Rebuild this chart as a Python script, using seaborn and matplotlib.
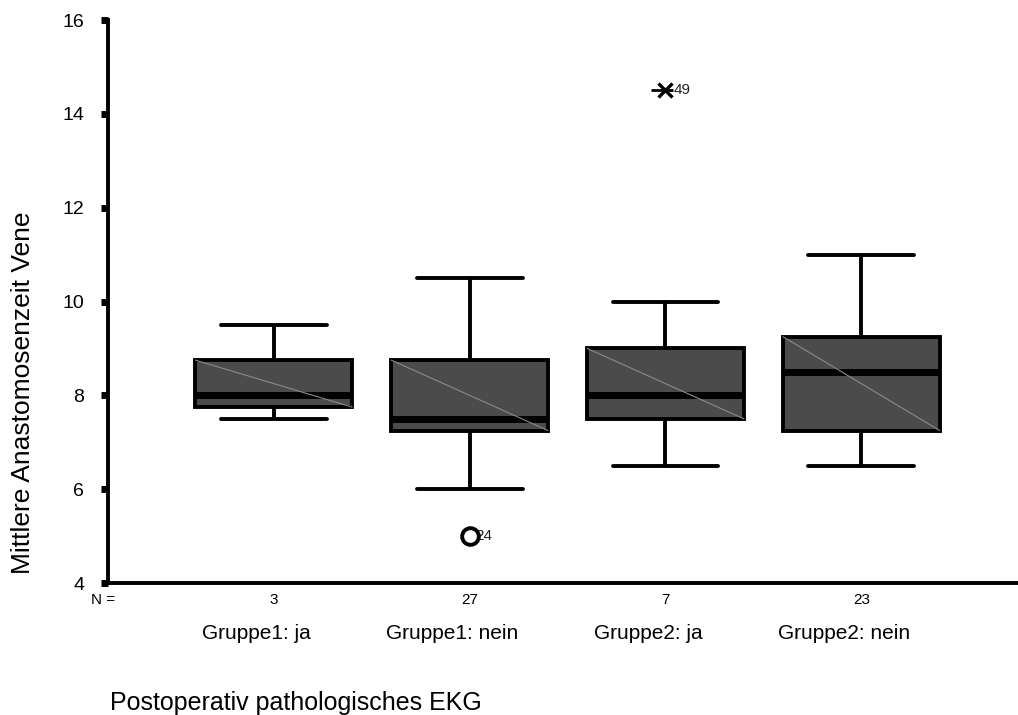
import pandas as pd
import seaborn as sns
import matplotlib.pyplot as plt

# Five-number summaries (min whisker, Q1, median, Q3, max whisker)
groups = ['Gruppe1: ja', 'Gruppe1: nein', 'Gruppe2: ja', 'Gruppe2: nein']
counts = [3, 27, 7, 23]
whisker_low = [7.5, 6.0, 6.5, 6.5]
q1 = [7.75, 7.25, 7.5, 7.25]
median = [8.0, 7.5, 8.0, 8.5]
q3 = [8.75, 8.75, 9.0, 9.25]
whisker_high = [9.5, 10.5, 10.0, 11.0]

# Flagged cases
outlier_group = ['Gruppe1: nein']
outlier_value = [5.0]
outlier_case = ['24']
extreme_group = ['Gruppe2: ja']
extreme_value = [14.5]
extreme_case = ['49']

rows = []
for i, g in enumerate(groups):
    for v in (whisker_low[i], q1[i], median[i], q3[i], whisker_high[i]):
        rows.append({'Gruppe': g, 'Zeit': v})
df = pd.DataFrame(rows)

sns.set_style('white')
plt.rcParams['font.family'] = ['Liberation Sans', 'DejaVu Sans']
plt.rcParams['text.color'] = 'black'
plt.rcParams['axes.labelcolor'] = 'black'
plt.rcParams['xtick.color'] = 'black'
plt.rcParams['ytick.color'] = 'black'

fig = plt.figure(figsize=(10.18, 7.15), dpi=100)
ax = fig.add_axes([0.106, 0.1846, 0.894, 0.7874])

sns.boxplot(
    data=df, x='Gruppe', y='Zeit', order=groups, whis=(0, 100),
    width=0.8, color='#4b4b4b', saturation=1, fliersize=0, ax=ax,
    boxprops=dict(edgecolor='black', linewidth=2.8),
    whiskerprops=dict(color='black', linewidth=2.8),
    capprops=dict(color='black', linewidth=2.8),
    medianprops=dict(color='black', linewidth=5),
)

# widen the whisker caps (SPSS draws them about 2/3 of the box width)
for line in ax.lines:
    xd = list(line.get_xdata())
    yd = list(line.get_ydata())
    if len(xd) == 2 and yd[0] == yd[1] and abs((xd[1] - xd[0]) - 0.4) < 1e-6:
        c = (xd[0] + xd[1]) / 2
        line.set_xdata([c - 0.27, c + 0.27])

# thin diagonal stroke across each box (SPSS shading artefact)
for patch in ax.patches:
    ext = patch.get_path().get_extents(patch.get_transform())
    x0, y0 = ax.transData.inverted().transform((ext.x0, ext.y1))
    x1, y1 = ax.transData.inverted().transform((ext.x1, ext.y0))
    ax.plot([x0, x1], [y0, y1], color='#8a8a8a', lw=0.8, zorder=patch.get_zorder() + 0.1)

# outliers and extremes
pos = {g: i for i, g in enumerate(groups)}
for g, v, c in zip(outlier_group, outlier_value, outlier_case):
    ax.plot(pos[g], v, marker='o', ms=12, mfc='white', mec='black', mew=2.8, zorder=5)
    ax.text(pos[g] + 0.03, v, c, fontsize=11, va='center', ha='left', color='#222222')
for g, v, c in zip(extreme_group, extreme_value, extreme_case):
    ax.plot(pos[g], v, marker='x', ms=10, mec='black', mew=2.4, zorder=5)
    ax.plot(pos[g] - 0.02, v, marker='_', ms=16, mec='black', mew=2.0, zorder=5)
    ax.text(pos[g] + 0.04, v, c, fontsize=11, va='center', ha='left', color='#222222')

ax.set_ylim(4, 16)
ax.set_xlim(-0.847, 3.8)
ax.set_yticks(range(4, 17, 2))
ax.tick_params(axis='y', direction='out', length=5, width=5, labelsize=14, pad=12, left=True)
ax.set_xticks([])

for side in ('top', 'right'):
    ax.spines[side].set_visible(False)
for side in ('left', 'bottom'):
    ax.spines[side].set_linewidth(2.8)
    ax.spines[side].set_color('black')

# N row and group names below the axis
trans = ax.get_xaxis_transform()
ax.text(-0.87, -0.03, 'N =', transform=trans, fontsize=11, ha='center', va='center')
for i, n in enumerate(counts):
    ax.text(i, -0.03, str(n), transform=trans, fontsize=11, ha='center', va='center')
for i, g in enumerate(groups):
    ax.text(i - 0.087, -0.089, g, transform=trans, fontsize=15, ha='center', va='center')

ax.set_xlabel('')
ax.set_ylabel('')
fig.text(23 / 1018, 1 - 393 / 715, 'Mittlere Anastomosenzeit Vene', fontsize=19,
         rotation=90, ha='center', va='center')
fig.text(110 / 1018, 1 - 710 / 715, 'Postoperativ pathologisches EKG', fontsize=18,
         ha='left', va='baseline')

fig.savefig('out.png', dpi=100)
